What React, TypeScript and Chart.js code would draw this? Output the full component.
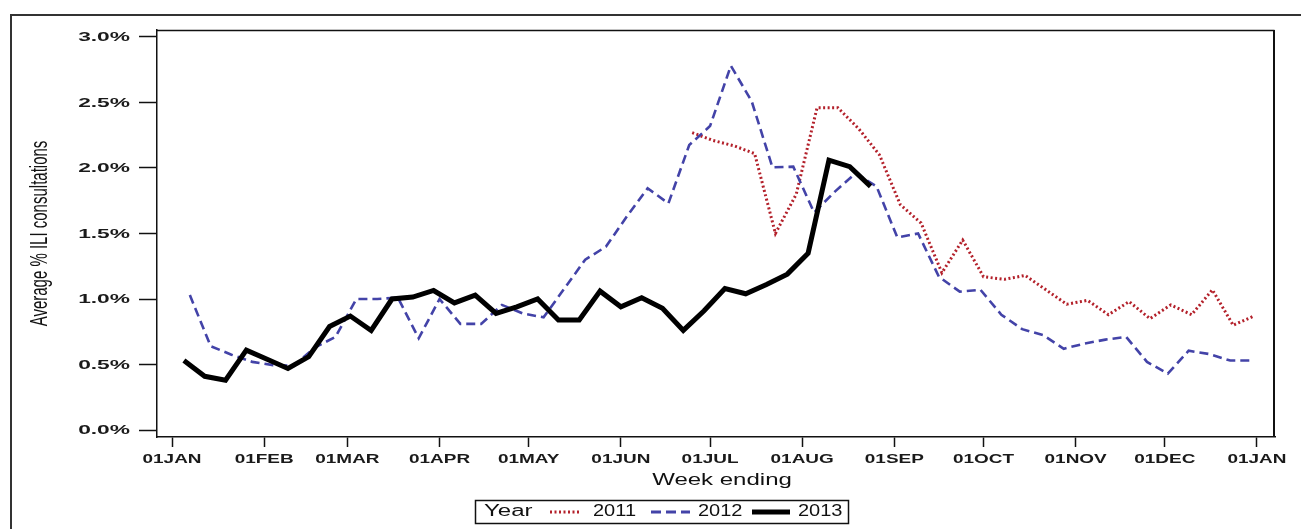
import React, { useEffect, useRef } from 'react';
import { Chart, registerables } from 'chart.js';

Chart.register(...registerables);

// ---- Data ----
const monthTickDays = [0, 31, 59, 90, 120, 151, 181, 212, 243, 273, 304, 334, 365];
const monthTickLabels = ['01JAN', '01FEB', '01MAR', '01APR', '01MAY', '01JUN', '01JUL', '01AUG', '01SEP', '01OCT', '01NOV', '01DEC', '01JAN'];
const yTickValues = [0, 0.5, 1.0, 1.5, 2.0, 2.5, 3.0];
const yTickLabels = ['0.0%', '0.5%', '1.0%', '1.5%', '2.0%', '2.5%', '3.0%'];

// week-ending day of year (1 Jan = 0)
const weekDays2011 = [175, 182, 189, 196, 203, 210, 217, 224, 231, 238, 245, 252, 259, 266, 273, 280, 287, 294, 301, 308, 315, 322, 329, 336, 343, 350, 357, 364];
const values2011 = [2.27, 2.21, 2.17, 2.11, 1.50, 1.80, 2.46, 2.46, 2.30, 2.10, 1.72, 1.58, 1.20, 1.45, 1.17, 1.15, 1.18, 1.07, 0.96, 0.99, 0.88, 0.98, 0.85, 0.955, 0.88, 1.07, 0.80, 0.87];

const weekDays2012 = [6, 13, 20, 27, 34, 41, 48, 55, 62, 69, 76, 83, 90, 97, 104, 111, 118, 125, 132, 139, 146, 153, 160, 167, 174, 181, 188, 195, 202, 209, 216, 223, 230, 237, 244, 251, 258, 265, 272, 279, 286, 293, 300, 307, 314, 321, 328, 335, 342, 349, 356, 363];
const values2012 = [1.03, 0.64, 0.575, 0.52, 0.495, 0.49, 0.63, 0.71, 1.00, 1.00,
  1.01, 0.70, 1.00, 0.81, 0.81, 0.955, 0.89, 0.86, 1.08, 1.30,
  1.40, 1.63, 1.845, 1.73, 2.175, 2.32, 2.78, 2.51, 2.005, 2.01,
  1.66, 1.82, 1.96, 1.86, 1.47, 1.50, 1.17, 1.056, 1.07, 0.88,
  0.77, 0.725, 0.62, 0.66, 0.69, 0.71, 0.52, 0.43, 0.605, 0.58,
  0.53, 0.53];

const weekDays2013 = [4, 11, 18, 25, 32, 39, 46, 53, 60, 67, 74, 81, 88, 95, 102, 109, 116, 123, 130, 137, 144, 151, 158, 165, 172, 179, 186, 193, 200, 207, 214, 221, 228, 235];
const values2013 = [0.53, 0.41, 0.38, 0.61, 0.54, 0.47, 0.56, 0.79, 0.87, 0.76,
  1.00, 1.015, 1.065, 0.97, 1.03, 0.89, 0.94, 1.00, 0.84, 0.84,
  1.06, 0.94, 1.01, 0.93, 0.76, 0.91, 1.08, 1.04, 1.11, 1.19,
  1.35, 2.06, 2.01, 1.86];

const yAxisTitle = 'Average % ILI consultations';
const xAxisTitle = 'Week ending';
const legendTitle = 'Year';
const seriesNames = ['2011', '2012', '2013'];

const RED = '#b3202a';
const BLUE = '#4343a8';
const BLACK = '#000000';
const FONT = "'Liberation Sans', Arial, sans-serif";

function toPoints(xs: number[], ys: number[]) {
  return xs.map((x, i) => ({ x, y: ys[i] }));
}

function stretchedText(ctx: CanvasRenderingContext2D, text: string, x: number, y: number, sx: number, font: string, align: CanvasTextAlign, color = '#111') {
  ctx.save();
  ctx.translate(x, y);
  ctx.scale(sx, 1);
  ctx.font = font;
  ctx.textAlign = align;
  ctx.textBaseline = 'middle';
  ctx.fillStyle = color;
  ctx.fillText(text, 0, 0);
  ctx.restore();
}

const decorPlugin = {
  id: 'decor',
  beforeDraw(chart: any) {
    const ctx: CanvasRenderingContext2D = chart.ctx;
    ctx.save();
    ctx.strokeStyle = '#333';
    ctx.lineWidth = 2;
    ctx.beginPath();
    ctx.moveTo(11, 529);
    ctx.lineTo(11, 15);
    ctx.lineTo(1301, 15);
    ctx.stroke();
    ctx.restore();
  },
  afterDraw(chart: any) {
    const ctx: CanvasRenderingContext2D = chart.ctx;
    const { left, right, top, bottom } = chart.chartArea;
    // top and right frame edges
    ctx.save();
    ctx.strokeStyle = '#111';
    ctx.lineWidth = 1.5;
    ctx.beginPath();
    ctx.moveTo(left, top + 0.5);
    ctx.lineTo(right - 0.5, top + 0.5);
    ctx.stroke();
    ctx.lineWidth = 2;
    ctx.beginPath();
    ctx.moveTo(right - 1, top);
    ctx.lineTo(right - 1, bottom);
    ctx.stroke();
    ctx.restore();

    // tick labels, positioned by the chart's own scales
    const xs = chart.scales.x;
    xs.ticks.forEach((t: any, i: number) => {
      const px = xs.getPixelForValue(t.value);
      stretchedText(ctx, monthTickLabels[i], px, bottom + 23, 1.58, `bold 12px ${FONT}`, 'center', '#1a1a1a');
    });
    const ys = chart.scales.y;
    ys.ticks.forEach((t: any, i: number) => {
      const py = ys.getPixelForValue(t.value);
      stretchedText(ctx, yTickLabels[i], 130, py + 0.5, 1.75, `bold 13px ${FONT}`, 'right', '#1a1a1a');
    });

    // y-axis title (rotated, glyphs stretched)
    ctx.save();
    ctx.translate(40, (top + bottom) / 2);
    ctx.rotate(-Math.PI / 2);
    ctx.scale(1, 1.6);
    ctx.font = `15px ${FONT}`;
    ctx.textAlign = 'center';
    ctx.textBaseline = 'middle';
    ctx.fillStyle = '#111';
    ctx.fillText(yAxisTitle, 0, 0);
    ctx.restore();

    // x-axis title
    stretchedText(ctx, xAxisTitle, (left + right) / 2 + 6, 481, 1.5, `16px ${FONT}`, 'center');

    // legend
    const lx = 475, ly = 500, lw = 373, lh = 23;
    const cy = ly + lh / 2 + 0.5;
    ctx.save();
    ctx.strokeStyle = '#111';
    ctx.lineWidth = 1.5;
    ctx.strokeRect(lx + 0.5, ly + 0.5, lw, lh);
    ctx.restore();
    const lfont = `16px ${FONT}`;
    stretchedText(ctx, legendTitle, 484, cy, 1.5, lfont, 'left');

    ctx.save();
    ctx.lineCap = 'butt';
    ctx.strokeStyle = RED;
    ctx.lineWidth = 3;
    ctx.setLineDash([2, 2.5]);
    ctx.beginPath(); ctx.moveTo(550, cy); ctx.lineTo(581, cy); ctx.stroke();
    ctx.strokeStyle = BLUE;
    ctx.lineWidth = 3;
    ctx.setLineDash([10, 5]);
    ctx.beginPath(); ctx.moveTo(651, cy); ctx.lineTo(690, cy); ctx.stroke();
    ctx.strokeStyle = BLACK;
    ctx.lineWidth = 5;
    ctx.setLineDash([]);
    ctx.beginPath(); ctx.moveTo(752, cy); ctx.lineTo(790, cy); ctx.stroke();
    ctx.restore();

    stretchedText(ctx, seriesNames[0], 593, cy, 1.25, lfont, 'left');
    stretchedText(ctx, seriesNames[1], 698, cy, 1.25, lfont, 'left');
    stretchedText(ctx, seriesNames[2], 798, cy, 1.25, lfont, 'left');
  },
};

export default function App() {
  const canvasRef = useRef<HTMLCanvasElement | null>(null);

  useEffect(() => {
    const canvas = canvasRef.current;
    if (!canvas) return;
    const chart = new Chart(canvas, {
      type: 'line',
      data: {
        datasets: [
          {
            label: seriesNames[0],
            data: toPoints(weekDays2011, values2011),
            borderColor: RED,
            borderWidth: 3,
            borderDash: [2, 2.5],
            pointRadius: 0,
            tension: 0,
            fill: false,
            order: 2,
          },
          {
            label: seriesNames[1],
            data: toPoints(weekDays2012, values2012),
            borderColor: BLUE,
            borderWidth: 2.6,
            borderDash: [9, 5],
            pointRadius: 0,
            tension: 0,
            fill: false,
            order: 1,
          },
          {
            label: seriesNames[2],
            data: toPoints(weekDays2013, values2013),
            borderColor: BLACK,
            borderWidth: 5,
            pointRadius: 0,
            tension: 0,
            fill: false,
            order: 0,
          },
        ],
      },
      options: {
        animation: false,
        responsive: false,
        devicePixelRatio: 1,
        layout: { padding: { left: 0, top: 30, right: 26, bottom: 52 } },
        plugins: {
          legend: { display: false },
          tooltip: { enabled: false },
          title: { display: false },
        },
        scales: {
          x: {
            type: 'linear',
            min: -5.05,
            max: 371.06,
            afterBuildTicks: (s: any) => {
              s.ticks = monthTickDays.map((v) => ({ value: v }));
            },
            afterFit: (s: any) => {
              s.height = 40;
            },
            grid: {
              display: true,
              drawOnChartArea: false,
              drawTicks: true,
              tickLength: 10,
              tickWidth: 1.5,
              tickColor: '#111',
            },
            border: { display: true, color: '#111', width: 1.5 },
            ticks: {
              display: false,
              autoSkip: false,
              maxRotation: 0,
              minRotation: 0,
              callback: (_v: any, i: number) => monthTickLabels[i],
            },
          },
          y: {
            type: 'linear',
            min: -0.0534,
            max: 3.0534,
            afterBuildTicks: (s: any) => {
              s.ticks = yTickValues.map((v) => ({ value: v }));
            },
            afterFit: (s: any) => {
              s.width = 157;
            },
            grid: {
              display: true,
              drawOnChartArea: false,
              drawTicks: true,
              tickLength: 18,
              tickWidth: 1.5,
              tickColor: '#111',
            },
            border: { display: true, color: '#111', width: 1.5 },
            ticks: {
              display: false,
              callback: (_v: any, i: number) => yTickLabels[i],
            },
          },
        },
      },
      plugins: [decorPlugin],
    } as any);
    return () => chart.destroy();
  }, []);

  return (
    <div style={{ position: 'fixed', left: 0, top: 0, width: 1301, height: 529, background: '#fff', overflow: 'hidden' }}>
      <canvas ref={canvasRef} width={1301} height={529} style={{ display: 'block', width: 1301, height: 529 }} />
    </div>
  );
}
